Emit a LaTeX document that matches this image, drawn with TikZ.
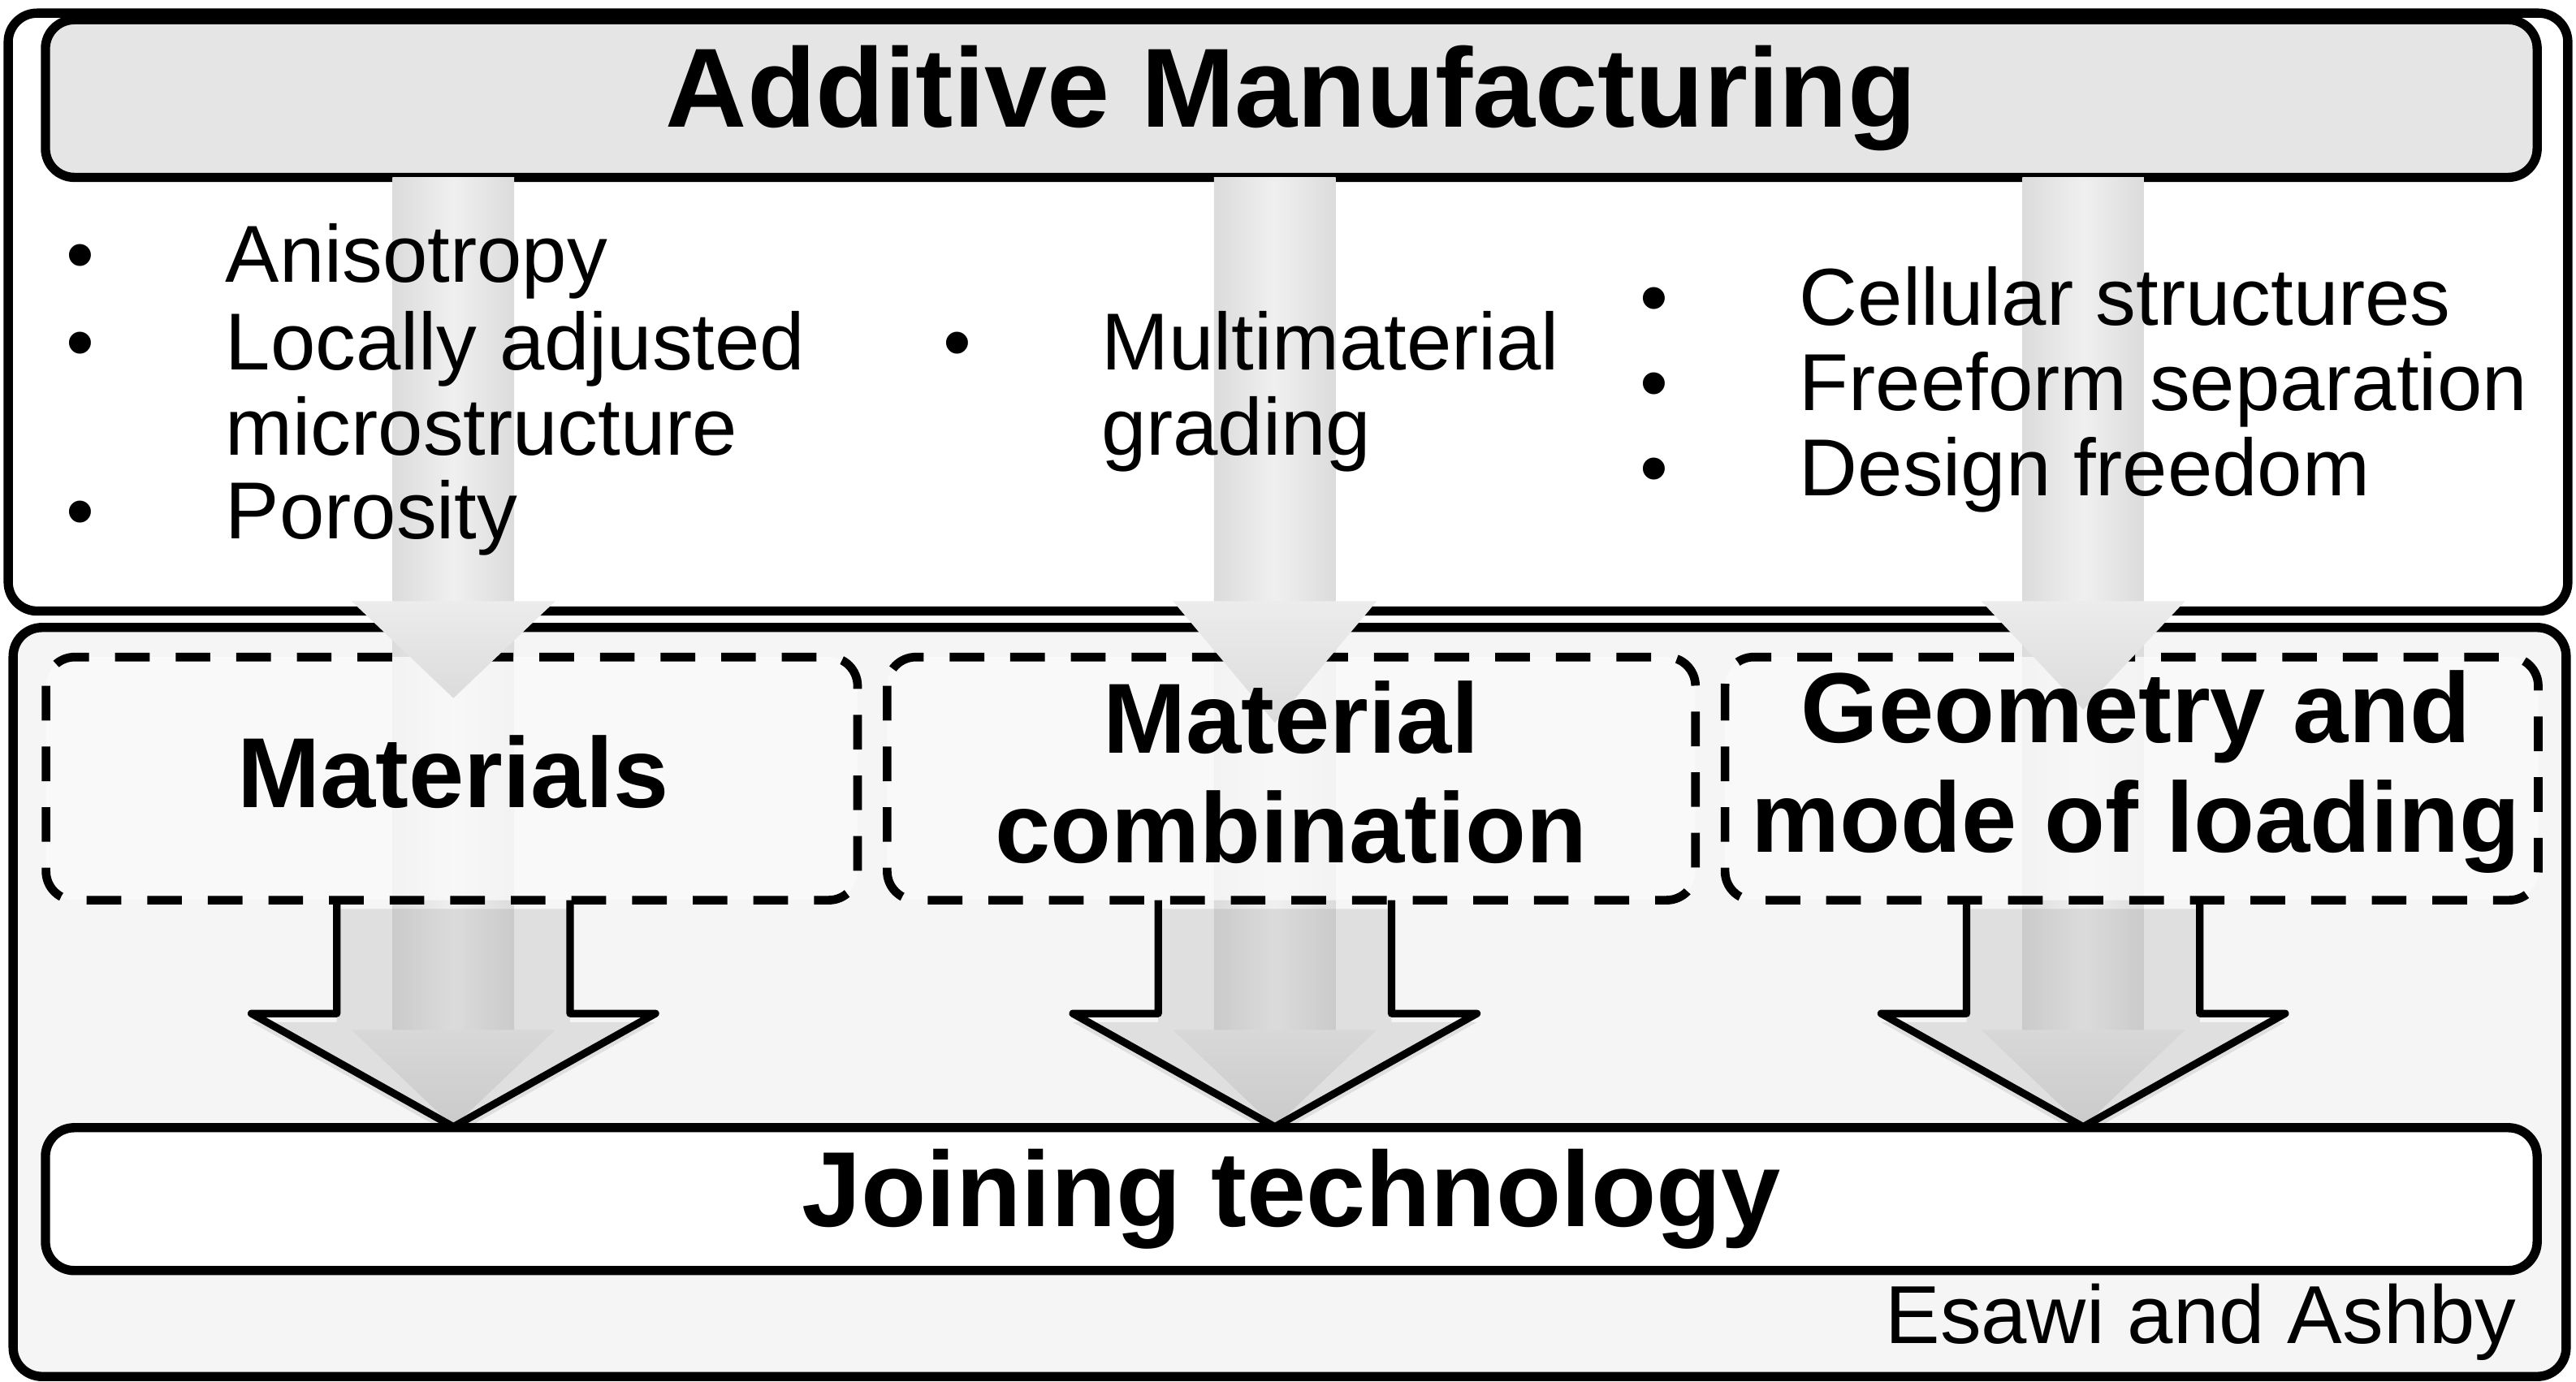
\documentclass[tikz,border=0pt]{standalone}
\usepackage{fontspec}
\setmainfont{Liberation Sans}
\usetikzlibrary{shadows,calc}

\tikzset{
  frame/.style={draw,line width=3.2pt,rounded corners=10pt},
  dashfill/.style={rounded corners=10pt,fill=gray!3,fill opacity=0.75},
  dashbox/.style={draw,line width=3pt,dash pattern=on 12pt off 9pt,rounded corners=10pt},
  openarrow/.style={draw,line width=2.6pt,line join=round,fill=none,drop shadow={opacity=0.18,shadow xshift=0pt,shadow yshift=-3pt}},
  grayshaft/.style={left color=gray!28,right color=gray!28,middle color=gray!12},
  grayhead/.style={top color=gray!15,bottom color=gray!28},
  boxtext/.style={font=\fontsize{34.5}{38}\selectfont\bfseries,align=center},
  itemtext/.style={font=\fontsize{28}{32}\selectfont,anchor=base west,inner sep=0pt},
}

\begin{document}
\begin{tikzpicture}[x=0.02cm,y=-0.02cm]
\useasboundingbox (0,0) rectangle (1568,841);

% frames
\draw[frame,fill=gray!8] (8,382) rectangle (1562,838);
\draw[frame,fill=white] (5,8) rectangle (1563,372);
\node[frame,fill=gray!20,minimum width=30.34cm,minimum height=1.92cm,
  font=\fontsize{39}{43}\selectfont\bfseries] (am) at (786,60) {Additive Manufacturing};

% lower gray arrows
\foreach \cx in {276,776,1268}{
  \shade[grayshaft] (\cx-37,366) rectangle (\cx+37,627);
  \shade[grayhead] (\cx-62,627) -- (\cx+62,627) -- (\cx,686) -- cycle;
}

% stages
\fill[dashfill] (28,400) rectangle (522,548);
\fill[dashfill] (540,400) rectangle (1032,548);
\fill[dashfill] (1050,400) rectangle (1545,548);
\draw[dashbox] (28,400) rectangle (522,548);
\draw[dashbox] (540,400) rectangle (1032,548);
\draw[dashbox] (1050,400) rectangle (1545,548);

% upper gray arrows
\foreach \cx/\tipa in {276/425,776/440,1268/432}{
  \shade[grayshaft] (\cx-37,108) rectangle (\cx+37,366);
  \shade[grayhead] (\cx-62,366) -- (\cx+62,366) -- (\cx,\tipa) -- cycle;
}

\node[boxtext] (mat) at (276,470) {Materials};
\node[boxtext] (comb) at (786,470) {Material\\combination};
\node[boxtext] (geo) at (1300,470) {Geometry and\\mode of loading};

% open arrows
\foreach \cx in {276,776,1268}{
  \draw[openarrow] (\cx-71,548) -- (\cx-71,617) -- (\cx-123,617) -- (\cx,686)
    -- (\cx+123,617) -- (\cx+71,617) -- (\cx+71,548);
}

% target
\node[frame,fill=white,minimum width=30.34cm,minimum height=1.74cm,
  font=\fontsize{37}{41}\selectfont\bfseries] (join) at (786,730) {Joining technology};
\node[font=\fontsize{28.5}{32}\selectfont,anchor=base east,inner sep=0pt] (src) at (1532,818) {Esawi and Ashby};

% property lists
\foreach \y/\t in {172/Anisotropy,225/Locally adjusted,277/microstructure,328/Porosity}
  \node[itemtext] at (137,\y) {\t};
\foreach \y in {172,225,328}
  \node[itemtext] at (40,\y) {\textbullet};
\foreach \y/\t in {225/Multimaterial,277/grading}
  \node[itemtext] at (670,\y) {\t};
\node[itemtext] at (574,225) {\textbullet};
\foreach \y/\t in {198/Cellular structures,250/Freeform separation,302/Design freedom}{
  \node[itemtext] at (1095,\y) {\t};
  \node[itemtext] at (998,\y) {\textbullet};
}
\end{tikzpicture}
\end{document}
